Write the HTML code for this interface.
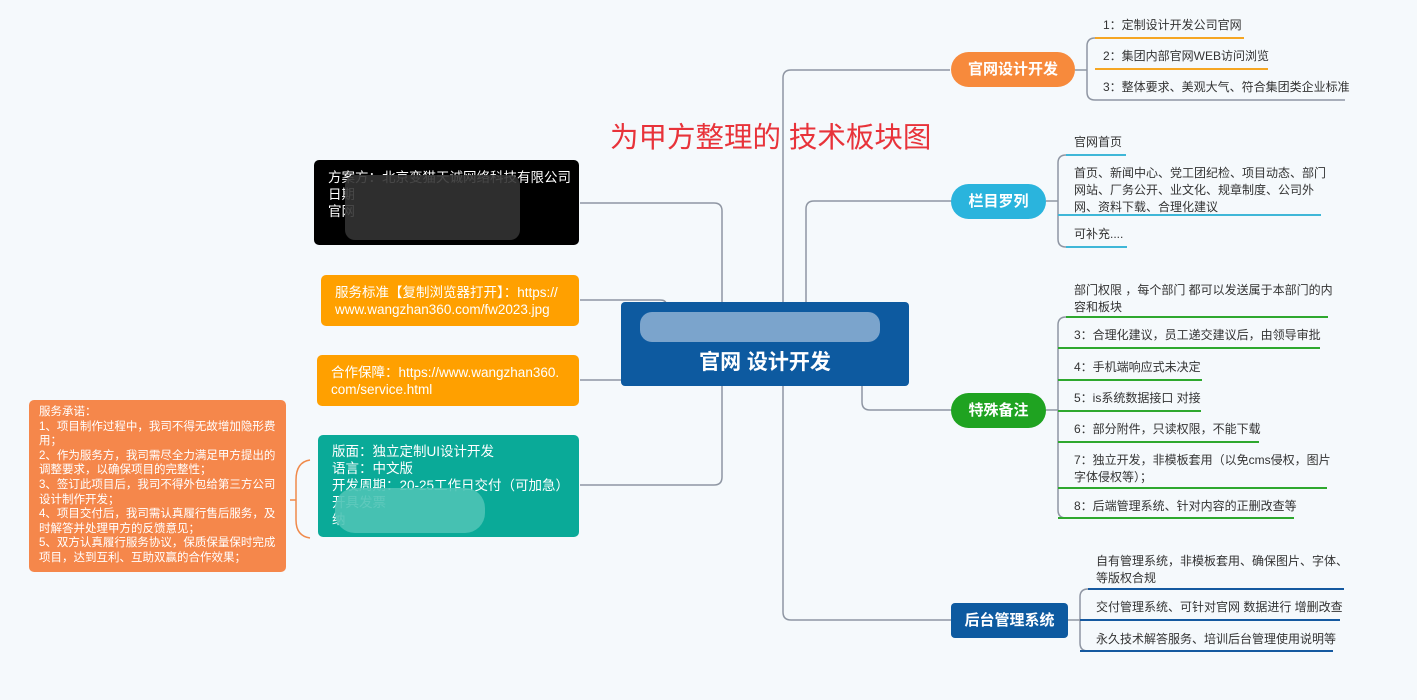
<!DOCTYPE html>
<html><head><meta charset="utf-8"><style>
*{box-sizing:border-box;}
body{margin:0;width:1417px;height:700px;background:#f5f9fc;position:relative;overflow:hidden;font-family:"Liberation Sans","Noto Sans CJK SC",sans-serif;}
.a{position:absolute;}
.t{font-size:12px;color:#333;line-height:17px;}
.pill{position:absolute;color:#fff;font-weight:bold;font-size:15px;text-align:center;}
.box{position:absolute;border-radius:5px;color:#fff;font-size:13.5px;line-height:17px;}
</style></head><body>
<svg class="a" style="left:0;top:0" width="1417" height="700">
<g fill="none" stroke="#8f96a3" stroke-width="1.5">
<path d="M950 70 H791 Q783 70 783 78 V612 Q783 620 791 620 H952"/>
<path d="M952 201 H814 Q806 201 806 209 V302"/>
<path d="M862 386 V402 Q862 410 870 410 H952"/>
<path d="M580 203 H714 Q722 203 722 211 V477 Q722 485 714 485 H580"/>
<path d="M580 300 H660 Q666 300 666 304"/>
<path d="M580 380 H621"/>
<path d="M1095 38 Q1087 38 1087 46 V92 Q1087 100 1095 100 H1345"/>
<path d="M1075 70 H1087"/>
<path d="M1066 155 Q1058 155 1058 163 V239 Q1058 247 1066 247"/>
<path d="M1046 201 H1058"/>
<path d="M1066 317 Q1058 317 1058 325 V510 Q1058 518 1066 518"/>
<path d="M1046 410 H1058"/>
<path d="M1088 589 Q1080 589 1080 597 V643 Q1080 651 1088 651"/>
<path d="M1068 620 H1080"/>
</g>
<g stroke-width="2" fill="none">
<path d="M1095 38 H1244 M1095 69 H1268" stroke="#f5a623"/>
<path d="M1066 155 H1126 M1058 215 H1321 M1066 247 H1127" stroke="#3fb7d8"/>
<path d="M1066 317 H1328 M1058 348 H1320 M1058 380 H1202 M1058 411 H1201 M1058 442 H1259 M1058 488 H1327 M1058 518 H1294" stroke="#2ea82e"/>
<path d="M1088 589 H1344 M1080 620 H1340 M1080 651 H1333" stroke="#1559a0"/>
</g>
<path d="M310 460 Q296 462 296 480 V520 Q296 536 310 538 M296 500 H290" stroke="#f08a4b" stroke-width="1.5" fill="none"/>
</svg>

<div class="a" style="left:610px;top:115px;font-size:28.5px;color:#e8333a;">为甲方整理的 技术板块图</div>

<div class="a" style="left:621px;top:302px;width:288px;height:84px;background:#0d5aa0;border-radius:4px;"></div>
<div class="a" style="left:640px;top:312px;width:240px;height:30px;background:#8fb2d4;border-radius:12px;opacity:.85"></div>
<div class="a" style="left:621px;top:346px;width:288px;text-align:center;color:#fff;font-weight:bold;font-size:21px;">官网 设计开发</div>

<div class="box" style="left:314px;top:160px;width:265px;height:85px;background:#000;padding:9px 0 0 14px;font-size:13.5px;">方案方：北京变猫天诚网络科技有限公司<br>日期<br>官网</div>
<div class="a" style="left:345px;top:175px;width:175px;height:65px;background:#333;border-radius:10px;opacity:.9"></div>
<div class="box" style="left:321px;top:275px;width:258px;height:51px;background:#ffa000;padding:0 0 0 14px;display:flex;align-items:center;">服务标准【复制浏览器打开】：https://<br>www.wangzhan360.com/fw2023.jpg</div>
<div class="box" style="left:317px;top:355px;width:262px;height:51px;background:#ffa000;padding:0 0 0 14px;display:flex;align-items:center;">合作保障：https://www.wangzhan360.<br>com/service.html</div>
<div class="box" style="left:318px;top:435px;width:261px;height:102px;background:#0aaa98;padding:8px 0 0 14px;font-size:13.5px;">版面：独立定制UI设计开发<br>语言：中文版<br>开发周期：20-25工作日交付（可加急）<br>开具发票<br>纳</div>
<div class="a" style="left:335px;top:488px;width:150px;height:45px;background:#4cc3b5;border-radius:20px;opacity:.9"></div>
<div class="box" style="left:29px;top:400px;width:257px;height:172px;background:#f5874b;padding:5px 6px 0 10px;font-size:11.5px;line-height:14.6px;">服务承诺：<br>1、项目制作过程中，我司不得无故增加隐形费用；<br>2、作为服务方，我司需尽全力满足甲方提出的调整要求，以确保项目的完整性；<br>3、签订此项目后，我司不得外包给第三方公司设计制作开发；<br>4、项目交付后，我司需认真履行售后服务，及时解答并处理甲方的反馈意见；<br>5、双方认真履行服务协议，保质保量保时完成项目，达到互利、互助双赢的合作效果；</div>

<div class="pill" style="left:951px;top:52px;width:124px;height:35px;line-height:35px;background:#f78a3c;border-radius:18px;">官网设计开发</div>
<div class="pill" style="left:951px;top:184px;width:95px;height:35px;line-height:35px;background:#2ab4dd;border-radius:18px;">栏目罗列</div>
<div class="pill" style="left:951px;top:393px;width:95px;height:35px;line-height:35px;background:#1fa321;border-radius:18px;">特殊备注</div>
<div class="pill" style="left:951px;top:603px;width:117px;height:35px;line-height:35px;background:#0d5aa0;border-radius:4px;">后台管理系统</div>

<div class="a t" style="left:1103px;top:17px;">1：定制设计开发公司官网</div>
<div class="a t" style="left:1103px;top:48px;">2：集团内部官网WEB访问浏览</div>
<div class="a t" style="left:1103px;top:79px;">3：整体要求、美观大气、符合集团类企业标准</div>

<div class="a t" style="left:1074px;top:134px;">官网首页</div>
<div class="a t" style="left:1074px;top:165px;width:260px;">首页、新闻中心、党工团纪检、项目动态、部门网站、厂务公开、业文化、规章制度、公司外网、资料下载、合理化建议</div>
<div class="a t" style="left:1074px;top:226px;">可补充....</div>

<div class="a t" style="left:1074px;top:282px;width:260px;">部门权限 ，每个部门 都可以发送属于本部门的内容和板块</div>
<div class="a t" style="left:1074px;top:327px;">3：合理化建议，员工递交建议后，由领导审批</div>
<div class="a t" style="left:1074px;top:359px;">4：手机端响应式未决定</div>
<div class="a t" style="left:1074px;top:390px;">5：is系统数据接口 对接</div>
<div class="a t" style="left:1074px;top:421px;">6：部分附件，只读权限，不能下载</div>
<div class="a t" style="left:1074px;top:452px;width:260px;">7：独立开发，非模板套用（以免cms侵权，图片字体侵权等）；</div>
<div class="a t" style="left:1074px;top:498px;">8：后端管理系统、针对内容的正删改查等</div>

<div class="a t" style="left:1096px;top:553px;width:255px;">自有管理系统，非模板套用、确保图片、字体、等版权合规</div>
<div class="a t" style="left:1096px;top:599px;">交付管理系统、可针对官网 数据进行 增删改查</div>
<div class="a t" style="left:1096px;top:631px;">永久技术解答服务、培训后台管理使用说明等</div>
</body></html>
